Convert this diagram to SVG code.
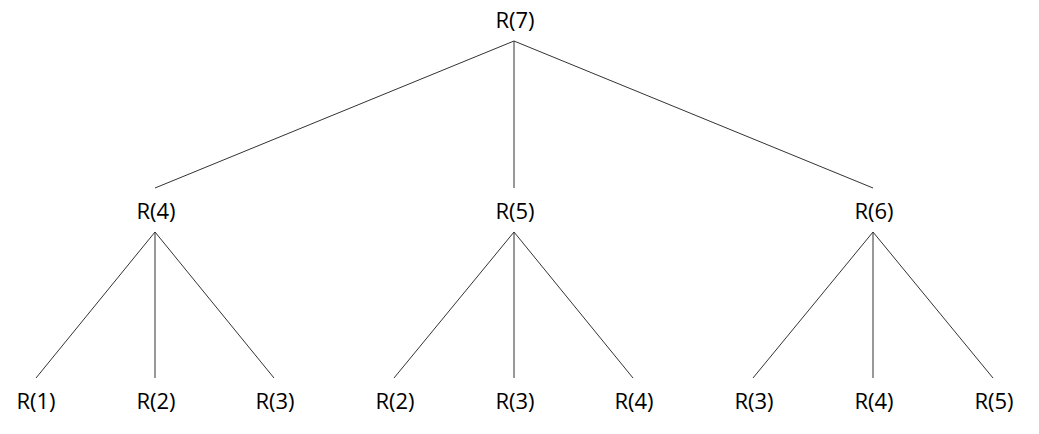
<svg xmlns="http://www.w3.org/2000/svg" width="1039" height="434" viewBox="0 0 1039 434">
<style>
text{font-family:"Open Sans","Noto Sans",sans-serif;font-size:22px;fill:#000;text-anchor:middle}
.e line{stroke:#333;stroke-width:1}
</style>
<rect width="1039" height="434" fill="#fff"/>
<g class="e" id="connectors">
<line x1="514" y1="41" x2="155" y2="188"/>
<line x1="514" y1="41" x2="514" y2="188"/>
<line x1="514" y1="41" x2="873" y2="188"/>
<line x1="155" y1="232" x2="36" y2="378"/>
<line x1="155" y1="232" x2="155" y2="378"/>
<line x1="155" y1="232" x2="274" y2="378"/>
<line x1="514" y1="232" x2="394" y2="378"/>
<line x1="514" y1="232" x2="514" y2="378"/>
<line x1="514" y1="232" x2="633" y2="378"/>
<line x1="873" y1="232" x2="753" y2="378"/>
<line x1="873" y1="232" x2="873" y2="378"/>
<line x1="873" y1="232" x2="993" y2="378"/>
</g>
<g id="n7"><text x="515" y="28">R(7)</text></g>
<g id="n4"><text x="156" y="219">R(4)</text></g>
<g id="n5"><text x="515" y="219">R(5)</text></g>
<g id="n6"><text x="874" y="219">R(6)</text></g>
<g id="l1"><text x="36" y="409">R(1)</text></g>
<g id="l2"><text x="156" y="409">R(2)</text></g>
<g id="l3"><text x="275" y="409">R(3)</text></g>
<g id="l4"><text x="395" y="409">R(2)</text></g>
<g id="l5"><text x="515" y="409">R(3)</text></g>
<g id="l6"><text x="634" y="409">R(4)</text></g>
<g id="l7"><text x="754" y="409">R(3)</text></g>
<g id="l8"><text x="874" y="409">R(4)</text></g>
<g id="l9"><text x="994" y="409">R(5)</text></g>
</svg>
